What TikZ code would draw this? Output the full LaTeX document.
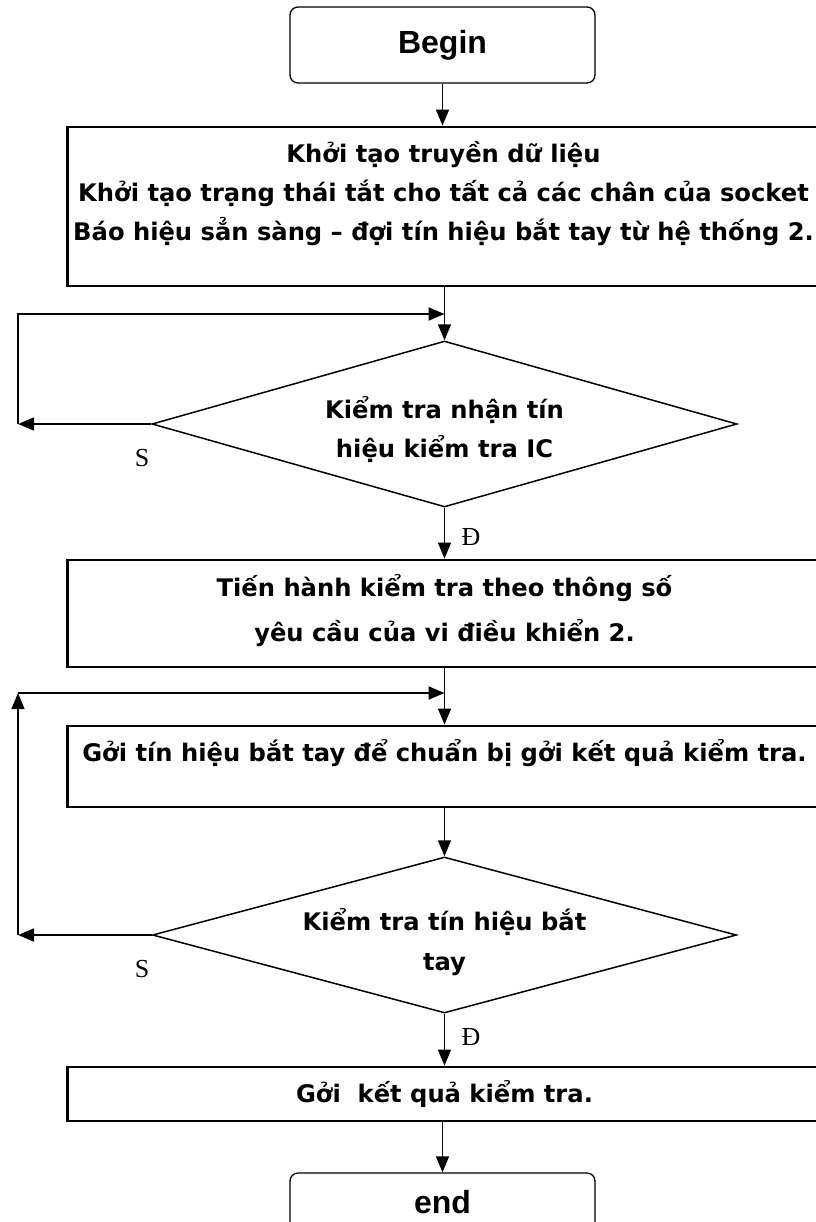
\documentclass[tikz,border=0pt]{standalone}
\usepackage{fontspec}
\setmainfont{DejaVu Sans}
\newfontfamily\labfont{Liberation Serif}
\newfontfamily\termfont{Liberation Sans}
\usetikzlibrary{shapes.geometric,arrows.meta}
\begin{document}
\begin{tikzpicture}[x=1pt,y=-1pt,
  boxstyle/.style={draw, line width=2.8pt, rectangle, inner sep=0pt, minimum width=754pt},
  term/.style={draw, line width=1.3pt, rounded corners=8pt, minimum width=305pt, inner sep=0pt,
    font=\fontsize{32}{32}\selectfont\termfont\bfseries},
  dec/.style={draw, diamond, line width=1.5pt, inner sep=0pt},
  txt/.style={font=\fontsize{24.2}{39}\selectfont\bfseries, align=center, inner sep=0pt},
  lab/.style={font=\fontsize{26}{26}\selectfont\labfont, inner sep=0pt},
  arr/.style={line width=1.5pt, -{Triangle[length=16pt,width=13pt]}},
]
\useasboundingbox (0,0) rectangle (815,1222);

% nodes
\node[term, minimum height=76pt] (start) at (442.5,45) {Begin};
\node[boxstyle, minimum height=159pt] (b1) at (444.5,206.5) {};
\node[txt] (t1) at (443.5,194) {Khởi tạo truyền dữ liệu\\
  Khởi tạo trạng thái tắt cho tất cả các chân của socket\\
  Báo hiệu sẳn sàng – đợi tín hiệu bắt tay từ hệ thống 2.};
\node[dec, minimum width=585pt, minimum height=166pt] (d1) at (444.5,424) {};
\node[txt] (td1) at (444.5,430) {Kiểm tra nhận tín\\hiệu kiểm tra IC};
\node[boxstyle, minimum height=107pt] (b2) at (444.5,613.5) {};
\node[txt, font=\fontsize{24.2}{45}\selectfont\bfseries] (t2) at (444.5,611) {Tiến hành kiểm tra theo thông số\\yêu cầu của vi điều khiển 2.};
\node[boxstyle, minimum height=81pt] (b3) at (444.5,766.5) {};
\node[txt] (t3) at (444.5,753) {Gởi tín hiệu bắt tay để chuẩn bị gởi kết quả kiểm tra.};
\node[dec, minimum width=584pt, minimum height=156pt] (d2) at (444.5,935) {};
\node[txt, font=\fontsize{24.2}{40}\selectfont\bfseries] (td2) at (444.5,942) {Kiểm tra tín hiệu bắt\\tay};
\node[boxstyle, minimum height=54pt] (b4) at (444.5,1094) {};
\node[txt] (t4) at (444.5,1094) {Gởi\ \ kết quả kiểm tra.};
\node[term, minimum height=58pt] (stop) at (442.5,1202) {end};

% loop coordinates
\coordinate (l1a) at (18,424);
\coordinate (l1b) at (18,314);
\coordinate (j1) at (444.5,314);
\coordinate (l2a) at (18,935);
\coordinate (l2b) at (18,693);
\coordinate (j2) at (444.5,693);

% labels
\node[lab] (s1) at (142,458) {S};
\node[lab] (y1) at (471,537) {Đ};
\node[lab] (s2) at (142,969) {S};
\node[lab] (y2) at (471,1037) {Đ};

% connectors
\draw[arr] (start.south) -- (start.south |- b1.north);
\draw[arr] (b1.south) -- (d1.north);
\draw[arr] (d1.west) -- (l1a);
\draw[arr, line width=2.2pt] (l1a) -- (l1b) -- (j1);
\draw[arr] (d1.south) -- (b2.north);
\draw[arr] (b2.south) -- (b3.north);
\draw[arr, line width=1.2pt] (l2a) -- (l2b);
\draw[arr, line width=2pt] (l2b) -- (j2);
\draw[arr] (b3.south) -- (d2.north);
\draw[arr] (d2.west) -- (l2a);
\draw[arr] (d2.south) -- (b4.north);
\draw[arr] (b4.south -| stop.north) -- (stop.north);
\end{tikzpicture}
\end{document}
